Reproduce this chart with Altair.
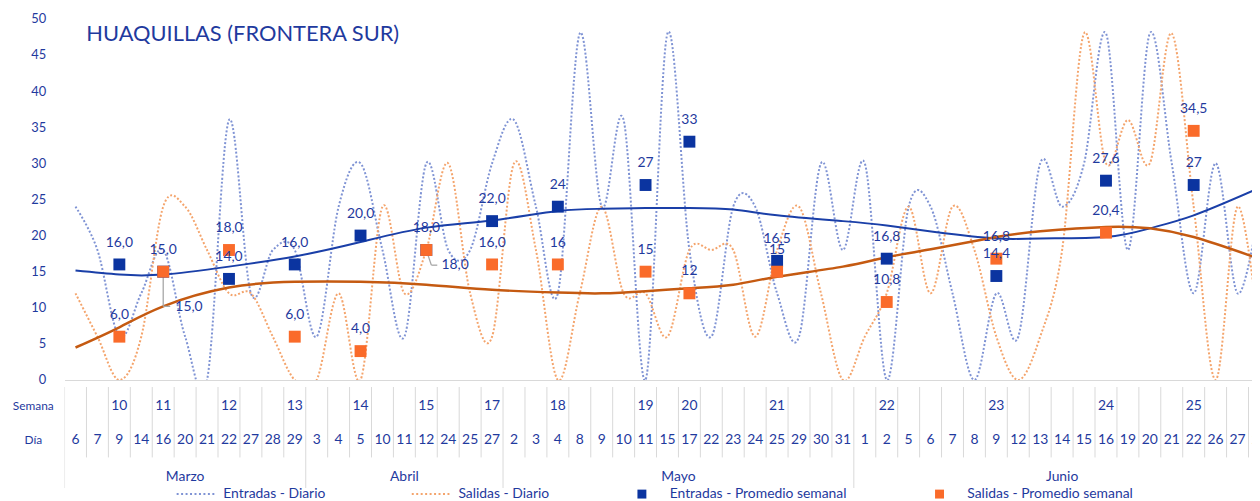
import altair as alt
import pandas as pd

# ---------------- data ----------------
dias_marzo = ["6", "7", "9", "14", "16", "20", "21", "22", "27", "28", "29"]
dias_abril = ["3", "4", "5", "10", "11", "12", "24", "25", "27"]
dias_mayo = ["2", "3", "4", "8", "9", "10", "11", "15", "17", "22", "23", "24", "25", "29", "30", "31"]
dias_junio = ["1", "2", "5", "6", "7", "8", "9", "12", "13", "14", "15", "16", "19", "20", "21", "22", "26", "27", "28"]
meses = ["Marzo", "Abril", "Mayo", "Junio"]

entradas_diario = [24, 18, 6, 12, 18, 6, 0, 36, 12, 18, 18, 6, 24, 30, 18, 6, 30, 18, 18, 30,
                   36, 24, 12, 48, 24, 36, 0, 48, 18, 6, 24, 24, 12, 6, 30, 18, 30, 0, 24, 24,
                   12, 0, 12, 6, 30, 24, 30, 48, 18, 48, 30, 12, 30, 12, 24]
salidas_diario = [12, 6, 0, 6, 24, 24, 18, 12, 12, 6, 0, 0, 12, 0, 24, 12, 18, 30, 12, 6,
                  30, 18, 0, 12, 24, 12, 12, 6, 18, 18, 18, 6, 18, 24, 12, 0, 6, 12, 24, 12,
                  24, 18, 6, 0, 6, 18, 48, 30, 36, 30, 48, 24, 0, 24, 6]

semanas = ["10", "11", "12", "13", "14", "15", "17", "18", "19", "20", "21", "22", "23", "24", "25"]
semana_pos = [2, 4, 7, 10, 13, 16, 19, 22, 26, 28, 32, 37, 42, 47, 51]
entradas_semana = [16.0, 15.0, 14.0, 16.0, 20.0, 18.0, 22.0, 24, 27, 33, 16.5, 16.8, 14.4, 27.6, 27]
salidas_semana = [6.0, 15.0, 18.0, 6.0, 4.0, 18.0, 16.0, 16, 15, 12, 15, 10.8, 16.8, 20.4, 34.5]
etiquetas_entradas = ["16,0", "15,0", "14,0", "16,0", "20,0", "18,0", "22,0", "24", "27", "33",
                      "16,5", "16,8", "14,4", "27,6", "27"]
etiquetas_salidas = ["6,0", "15,0", "18,0", "6,0", "4,0", "18,0", "16,0", "16", "15", "12",
                     "15", "10,8", "16,8", "20,4", "34,5"]

tendencia_pos = [0, 2, 4, 7, 10, 13, 16, 19, 22, 24, 26, 28, 30, 32, 35, 37, 39.2, 42, 44, 47, 49, 51, 53.7]
tendencia_entradas = [15.15, 14.6, 14.6, 15.7, 17.1, 19.1, 21.1, 22.1, 23.4, 23.7, 23.8, 23.8, 23.6,
                      22.8, 22.0, 21.4, 20.5, 19.6, 19.6, 19.8, 21.0, 22.8, 26.2]
tendencia_salidas = [4.5, 7.3, 10.2, 12.8, 13.6, 13.6, 13.2, 12.5, 12.1, 12.0, 12.3, 12.7, 13.2,
                     14.3, 15.7, 17.0, 18.2, 19.8, 20.6, 21.2, 21.0, 19.8, 17.1]

series = ["Entradas - Diario", "Salidas - Diario",
          "Entradas - Promedio semanal", "Salidas - Promedio semanal"]
titulo = "HUAQUILLAS (FRONTERA SUR)"

# ---------------- tables ----------------
dias = dias_marzo + dias_abril + dias_mayo + dias_junio
mes_de_dia = (["Marzo"] * len(dias_marzo) + ["Abril"] * len(dias_abril)
              + ["Mayo"] * len(dias_mayo) + ["Junio"] * len(dias_junio))
df_diario = pd.DataFrame({"idx": list(range(len(dias))), "dia": dias, "mes": mes_de_dia,
                          "entradas": entradas_diario, "salidas": salidas_diario})

df_sem = pd.concat([
    pd.DataFrame({"idx": semana_pos, "semana": semanas, "valor": entradas_semana,
                  "etiqueta": etiquetas_entradas, "serie": series[2]}),
    pd.DataFrame({"idx": semana_pos, "semana": semanas, "valor": salidas_semana,
                  "etiqueta": etiquetas_salidas, "serie": series[3]}),
], ignore_index=True)

df_tend = pd.DataFrame({"pos": tendencia_pos, "te": tendencia_entradas, "ts": tendencia_salidas})

df_mes = df_diario.groupby("mes", sort=False)["idx"].agg(["min", "max"]).reset_index()
df_mes["centro"] = (df_mes["min"] + df_mes["max"]) / 2

inicio_mes = set(df_mes["min"].tolist())
df_sep = pd.DataFrame({"bx": [k - 0.5 for k in range(len(dias) + 1)],
                       "y1": 0.0,
                       "y2": [3.0 if k in inicio_mes else 2.09 for k in range(len(dias) + 1)]})

# ---------------- style ----------------
FONT = "Lato"
TXT = "#1f3a9e"
C_EB = "#0b34a0"      # entradas semanal
C_SB = "#fa6b2a"      # salidas semanal
C_ED = "#7f93d4"      # entradas diario (dotted)
C_SD = "#f4a46c"      # salidas diario (dotted)
C_TE = "#1a3fa8"      # tendencia entradas
C_TS = "#c55a11"      # tendencia salidas
GRID = "#d9d9d9"

W = 1197
H = 364
HT = 102

xs = alt.Scale(domain=[-0.5, 53.66], nice=False, zero=False)
ys = alt.Scale(domain=[0, 50], nice=False, zero=False)

x_axis = alt.Axis(labels=False, ticks=False, grid=False, domain=True, domainColor=GRID,
                  domainWidth=1, title=None, minExtent=0, maxExtent=0, labelPadding=0)
y_axis = alt.Axis(values=list(range(0, 51, 5)), labelPadding=19, ticks=False, domain=False,
                  grid=False, labelColor=TXT, labelFontSize=13, labelFont=FONT, title=None,
                  minExtent=50, maxExtent=50)


def X(field):
    return alt.X(field, scale=xs, axis=x_axis)


def Y(field):
    return alt.Y(field, scale=ys, axis=y_axis)


dots = " ".join(f"M{c - 0.22:.2f},-0.22h0.44v0.44h-0.44Z" for c in range(-4, 5))

color_scale = alt.Scale(domain=series, range=[C_ED, C_SD, C_EB, C_SB])
shape_scale = alt.Scale(domain=series, range=[dots, dots, "square", "square"])
leg = alt.Legend(title=None, orient="none", legendX=125, legendY=472, direction="horizontal",
                 columns=4, columnPadding=86, labelOffset=21, symbolSize=81, labelLimit=400,
                 labelFontSize=14, labelFont=FONT, labelColor=TXT, symbolStrokeWidth=0)

# ---------------- main chart ----------------
l_ed = alt.Chart(df_diario).mark_line(interpolate="cardinal", color=C_ED, strokeWidth=2,
                                      strokeDash=[2, 2], clip=True).encode(x=X("idx:Q"), y=Y("entradas:Q"))
l_sd = alt.Chart(df_diario).mark_line(interpolate="cardinal", color=C_SD, strokeWidth=2,
                                      strokeDash=[2, 2], clip=True).encode(x=X("idx:Q"), y=Y("salidas:Q"))
t_e = alt.Chart(df_tend).mark_line(interpolate="natural", color=C_TE, strokeWidth=2,
                                   clip=True).encode(x=X("pos:Q"), y=Y("te:Q"))
t_s = alt.Chart(df_tend).mark_line(interpolate="natural", color=C_TS, strokeWidth=2.5,
                                   clip=True).encode(x=X("pos:Q"), y=Y("ts:Q"))

CALLOUTS = {"11": dict(a=0.0, b=4.8, c=0.32, dx=26, dy=36),
            "15": dict(a=0.23, b=2.1, c=0.27, dx=29, dy=15)}

leader_layers = []
callout_text = []
for sem, p in CALLOUTS.items():
    base = alt.Chart(df_sem).transform_filter(
        f"datum.serie == '{series[2]}' && datum.semana == '{sem}'"
    ).transform_calculate(
        xa=f"datum.idx + {p['a']}", yb=f"datum.valor - {p['b']}",
        xc=f"datum.idx + {p['a'] + p['c']}"
    )
    r1 = base.mark_rule(color="#a6a6a6", strokeWidth=1.3).encode(
        x=X("idx:Q"), y=Y("valor:Q"), x2="xa:Q", y2="yb:Q")
    r2 = base.mark_rule(color="#a6a6a6", strokeWidth=1.3).encode(
        x=X("xa:Q"), y=Y("yb:Q"), x2="xc:Q")
    tx = base.mark_text(dx=p["dx"], dy=p["dy"], fontSize=14, font=FONT, color=TXT).encode(
        x=X("idx:Q"), y=Y("valor:Q"), text="etiqueta:N")
    leader_layers += [r1, r2]
    callout_text.append(tx)

puntos = alt.Chart(df_sem).mark_point(filled=True, size=144, opacity=1, strokeWidth=0).encode(
    x=X("idx:Q"), y=Y("valor:Q"),
    color=alt.Color("serie:N", scale=color_scale, legend=leg),
    shape=alt.Shape("serie:N", scale=shape_scale, legend=leg),
)

filtro = " || ".join(f"datum.semana == '{s}'" for s in CALLOUTS)
etiquetas = alt.Chart(df_sem).transform_filter(
    f"!(datum.serie == '{series[2]}' && ({filtro}))"
).mark_text(dy=-22, fontSize=14, font=FONT, color=TXT, clip=True).encode(
    x=X("idx:Q"), y=Y("valor:Q"), text="etiqueta:N")

main = alt.layer(l_ed, l_sd, t_e, t_s, *leader_layers, puntos, *callout_text, etiquetas).properties(
    width=W, height=H,
    title=alt.TitleParams(titulo, anchor="start", frame="group", offset=-33, dx=22,
                          fontSize=22, font=FONT, fontWeight="normal", color=TXT),
)

# ---------------- category table ----------------
ROW_SEM, ROW_DIA, ROW_MES = 0.56, 1.56, 2.67
tys = alt.Scale(domain=[0, 3], reverse=True, nice=False, zero=False)
t_axis = alt.Axis(values=[ROW_SEM, ROW_DIA], labelExpr="datum.value < 1 ? 'Semana' : 'Día'",
                  labelAlign="center", labelPadding=32, ticks=False, domain=False, grid=False,
                  labelColor=TXT, labelFontSize=12, labelFont=FONT, title=None,
                  minExtent=50, maxExtent=50)

sep = alt.Chart(df_sep).mark_rule(color=GRID, strokeWidth=1, clip=True).encode(
    x=alt.X("bx:Q", scale=xs, axis=None),
    y=alt.Y("y1:Q", scale=tys, axis=t_axis),
    y2="y2:Q")

txt_sem = alt.Chart(df_sem).transform_filter(f"datum.serie == '{series[2]}'").mark_text(
    fontSize=14, font=FONT, color=TXT, clip=True).encode(
    x=alt.X("idx:Q", scale=xs, axis=None), y=alt.datum(ROW_SEM, scale=tys), text="semana:N")

txt_dia = alt.Chart(df_diario).mark_text(fontSize=14, font=FONT, color=TXT, clip=True).encode(
    x=alt.X("idx:Q", scale=xs, axis=None), y=alt.datum(ROW_DIA, scale=tys), text="dia:N")

txt_mes = alt.Chart(df_mes).mark_text(fontSize=14, font=FONT, color=TXT, clip=True).encode(
    x=alt.X("centro:Q", scale=xs, axis=None), y=alt.datum(ROW_MES, scale=tys), text="mes:N")

tabla = alt.layer(sep, txt_sem, txt_dia, txt_mes).properties(width=W, height=HT)

chart = alt.vconcat(main, tabla, spacing=0).properties(
    padding={"left": 4, "top": 3, "right": 0, "bottom": 0},
    autosize=alt.AutoSizeParams(type="pad"),
).configure_view(strokeWidth=0)

chart.save("out.html", embed_options={"renderer": "svg", "actions": False})
